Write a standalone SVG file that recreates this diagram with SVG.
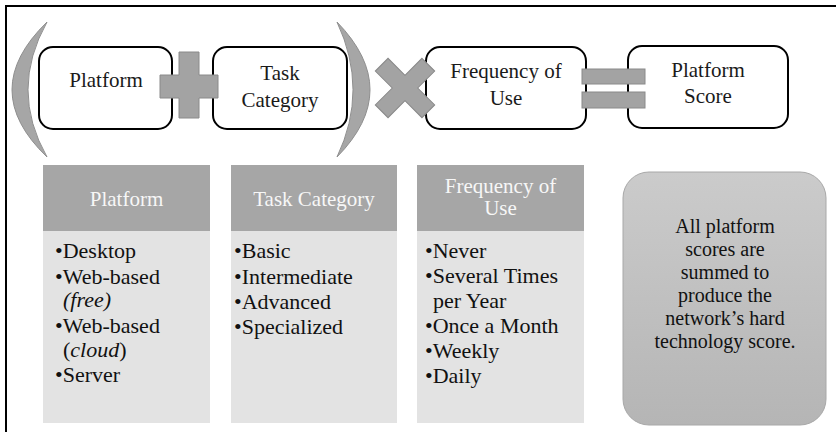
<svg xmlns="http://www.w3.org/2000/svg" width="836" height="432" viewBox="0 0 836 432">
  <defs>
    <linearGradient id="noteFill" x1="0" y1="0" x2="0" y2="1">
      <stop offset="0" stop-color="#cbcbcb"/>
      <stop offset="1" stop-color="#b5b5b5"/>
    </linearGradient>
    <style>
      text { font-family: "Liberation Serif", "Times New Roman", serif; }
      .node { fill: #ffffff; stroke: #000000; stroke-width: 2; }
      .op { fill: #a3a3a3; stroke: #8a8a8a; stroke-width: 1; }
      .paren { fill: #a6a6a6; stroke: #8e8e8e; stroke-width: 1; }
      .label { font-size: 21px; fill: #1a1a1a; text-anchor: middle; }
      .head { fill: #a6a6a6; }
      .body { fill: #e3e3e3; }
      .headtxt { font-size: 21px; fill: #f7f7f7; text-anchor: middle; }
      .item { font-size: 22px; fill: #111111; }
      .note { fill: url(#noteFill); stroke: #a8a8a8; stroke-width: 1; }
      .notetxt { font-size: 20px; fill: #111111; text-anchor: middle; }
    </style>
  </defs>

  <rect width="836" height="432" fill="#ffffff"/>

  <!-- frame -->
  <path d="M6 432 V6 H836" fill="none" stroke="#000" stroke-width="2"/>

  <!-- grouping parentheses -->
  <path class="paren" d="M47 22 Q-23 90 47 157 Q9 90 47 22 Z"/>
  <path class="paren" d="M337 22 Q403 90 337 157 Q369 90 337 22 Z"/>

  <!-- formula terms -->
  <g id="platform">
    <rect class="node" x="39" y="47" width="133" height="82" rx="14"/>
    <text class="label" x="106" y="87">Platform</text>
  </g>
  <g id="task-category">
    <rect class="node" x="213" y="47" width="134" height="82" rx="14"/>
    <text class="label" x="280" y="80">Task</text>
    <text class="label" x="280" y="107">Category</text>
  </g>
  <g id="frequency">
    <rect class="node" x="426" y="47" width="160" height="82" rx="14"/>
    <text class="label" x="506" y="78">Frequency of</text>
    <text class="label" x="506" y="105">Use</text>
  </g>
  <g id="platform-score">
    <rect class="node" x="628" y="46" width="160" height="82" rx="14"/>
    <text class="label" x="708" y="77">Platform</text>
    <text class="label" x="708" y="103">Score</text>
  </g>

  <!-- operators linking the terms -->
  <g id="connectors">
    <path class="op" d="M179 52 H199 V75 H218 V98 H199 V118 H179 V98 H160 V75 H179 Z"/>
    <path class="op" transform="translate(405 88) rotate(45)" d="M-9 -33 H9 V-9 H33 V9 H9 V33 H-9 V9 H-33 V-9 H-9 Z"/>
    <rect class="op" x="582" y="69" width="63" height="15"/>
    <rect class="op" x="582" y="92" width="63" height="16"/>
  </g>

  <!-- value columns -->
  <g id="platform-list">
    <rect class="head" x="43" y="165" width="167" height="66"/>
    <rect class="body" x="43" y="231" width="167" height="192"/>
    <text class="headtxt" x="126.5" y="206">Platform</text>
    <text class="item" x="55" y="258">•Desktop</text>
    <text class="item" x="55" y="284">•Web-based</text>
    <text class="item" x="63" y="307" font-style="italic">(free)</text>
    <text class="item" x="55" y="333">•Web-based</text>
    <text class="item" x="63" y="357">(<tspan font-style="italic">cloud</tspan>)</text>
    <text class="item" x="55" y="382">•Server</text>
  </g>
  <g id="task-list">
    <rect class="head" x="231" y="165" width="166" height="66"/>
    <rect class="body" x="231" y="231" width="166" height="192"/>
    <text class="headtxt" x="314" y="206">Task Category</text>
    <text class="item" x="234" y="258">•Basic</text>
    <text class="item" x="234" y="284">•Intermediate</text>
    <text class="item" x="234" y="309">•Advanced</text>
    <text class="item" x="234" y="334">•Specialized</text>
  </g>
  <g id="frequency-list">
    <rect class="head" x="417" y="165" width="167" height="66"/>
    <rect class="body" x="417" y="231" width="167" height="192"/>
    <text class="headtxt" x="500.5" y="193">Frequency of</text>
    <text class="headtxt" x="500.5" y="215">Use</text>
    <text class="item" x="425" y="258">•Never</text>
    <text class="item" x="425" y="283">•Several Times</text>
    <text class="item" x="433" y="308">per Year</text>
    <text class="item" x="425" y="333">•Once a Month</text>
    <text class="item" x="425" y="358">•Weekly</text>
    <text class="item" x="425" y="383">•Daily</text>
  </g>

  <!-- summary note -->
  <g id="summary">
    <rect class="note" x="623" y="172" width="203" height="253" rx="26"/>
    <text class="notetxt" x="725" y="233"><tspan x="725">All platform</tspan><tspan x="725" dy="23">scores are</tspan><tspan x="725" dy="23">summed to</tspan><tspan x="725" dy="23">produce the</tspan><tspan x="725" dy="23">network’s hard</tspan><tspan x="725" dy="23">technology score.</tspan></text>
  </g>
</svg>
